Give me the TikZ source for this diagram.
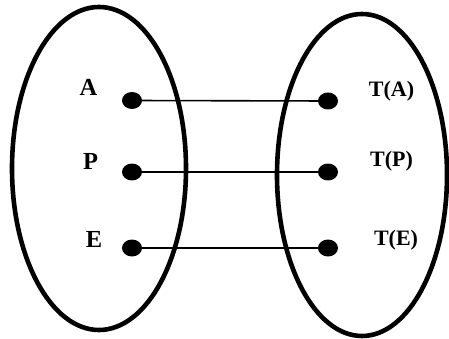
\documentclass[tikz,border=0pt]{standalone}
\usepackage{fontspec}
\setmainfont{Liberation Serif}
\usetikzlibrary{shapes.geometric}
\tikzset{
  setshape/.style={ellipse, draw, line width=4.6pt, inner sep=0pt},
  elem/.style={ellipse, fill=black, inner sep=0pt, minimum width=20pt, minimum height=17pt},
  link/.style={line width=1.6pt},
  leftlab/.style={anchor=base, inner sep=0pt, font=\fontsize{24.5}{24.5}\selectfont\bfseries},
  rightlab/.style={anchor=base, inner sep=0pt, font=\fontsize{22}{22}\selectfont\bfseries}
}
\begin{document}
\begin{tikzpicture}[x=1pt,y=-1pt]
  \useasboundingbox (0,0) rectangle (449,339);
  % the two sets
  \node[setshape, minimum width=174pt, minimum height=323pt] (dom) at (99,168.5) {};
  \node[setshape, minimum width=170pt, minimum height=322pt] (cod) at (362,175) {};
  % elements
  \node[elem] (a1) at (132,100.5) {};
  \node[elem] (p1) at (132,172) {};
  \node[elem] (e1) at (132,248) {};
  \node[elem] (a2) at (328,101) {};
  \node[elem] (p2) at (328,172) {};
  \node[elem] (e2) at (328,248) {};
  % mapping
  \draw[link] (a1.center) -- (a2.center);
  \draw[link] (p1.center) -- (p2.center);
  \draw[link] (e1.center) -- (e2.center);
  % labels
  \node[leftlab] (la) at (88.5,96) {A};
  \node[leftlab] (lp) at (90.5,169) {P};
  \node[leftlab] (le) at (94,247) {E};
  \node[rightlab] (ta) at (391.5,97) {T(A)};
  \node[rightlab] (tp) at (391.5,166) {T(P)};
  \node[rightlab] (te) at (396,245) {T(E)};
\end{tikzpicture}
\end{document}
